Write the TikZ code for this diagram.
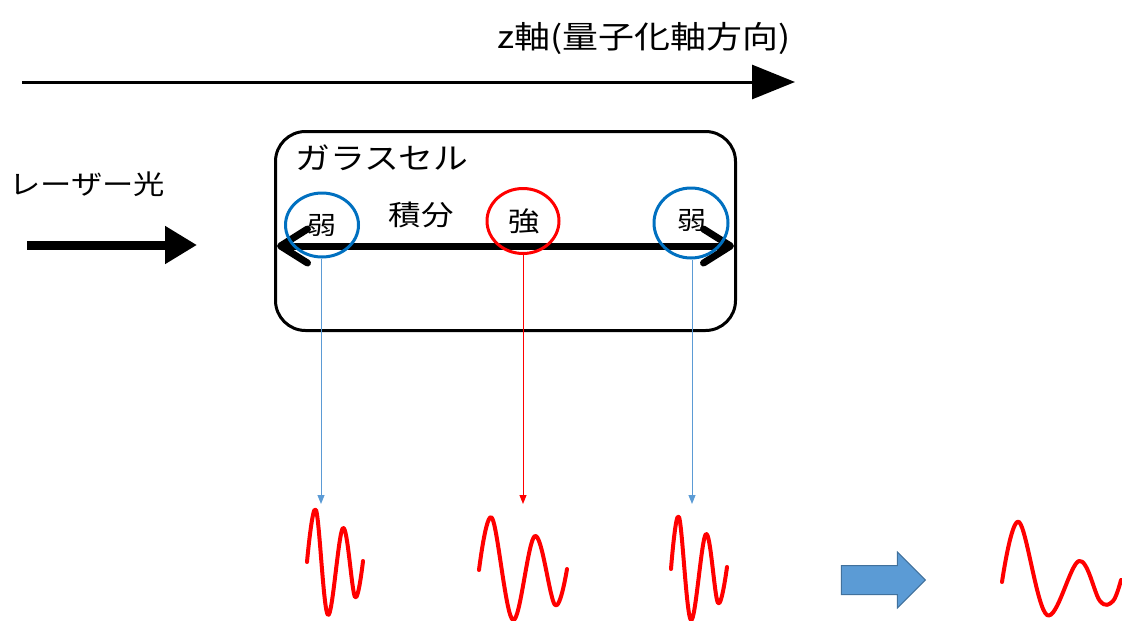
\documentclass[tikz,border=0pt]{standalone}
\usepackage{fontspec}
\setmainfont{Noto Sans CJK JP}[FakeStretch=1.16]
\usetikzlibrary{arrows.meta,shapes.geometric,shapes.arrows}
\definecolor{cblue}{HTML}{0070C0}
\definecolor{lblue}{HTML}{5B9BD5}
\definecolor{dblue}{HTML}{41719C}
\definecolor{cred}{HTML}{FF0000}
\tikzset{
  txt/.style={inner sep=0pt, font=\fontsize{#1}{#1}\selectfont},
  ring/.style={draw=#1, line width=3pt, ellipse, inner sep=0pt},
  drop/.style={draw=#1, line width=1pt, -{Triangle[length=9pt,width=7pt]}},
  wave/.style={draw=cred, line width=4pt, line cap=round, line join=round},
}
\begin{document}
\begin{tikzpicture}[x=1pt,y=-1pt]
\useasboundingbox (0,0) rectangle (1122,621);
% z axis
\coordinate (za) at (22,82);
\coordinate (zb) at (795,82);
\draw[line width=3pt, -{Triangle[length=43pt,width=34pt]}] (za) -- (zb);
\node[txt=31, anchor=east] (zlabel) at (791,38) {z軸(量子化軸方向)};
% laser
\node[txt=27, anchor=west] (laser) at (9,184) {レーザー光};
\coordinate (la) at (27,245);
\coordinate (lb) at (197,245);
\draw[line width=9pt, -{Triangle[length=32pt,width=36pt]}] (la) -- (lb);
% glass cell
\node[draw, line width=3pt, rounded corners=30pt, minimum width=460pt, minimum height=199pt, inner sep=0pt] (cell) at (505.5,231) {};
\node[txt=30, anchor=west] (cellname) at (295,158) {ガラスセル};
% integration arrow
\coordinate (ia) at (277,246);
\coordinate (ib) at (734,246);
\draw[line width=7pt, {Straight Barb[length=27pt,width=34pt,line cap=round,round]}-{Straight Barb[length=27pt,width=34pt,line cap=round,round]}] (ia) -- (ib);
\node[txt=28] (sekibun) at (421,215) {積分};
% circles
\node[ring=cblue, minimum width=73pt, minimum height=64pt] (c1) at (322,225) {};
\node[ring=cred, minimum width=72pt, minimum height=65pt] (c2) at (523,221) {};
\node[ring=cblue, minimum width=74pt, minimum height=70pt] (c3) at (691,223) {};
\node[txt=25] (t1) at (322,225) {弱};
\node[txt=27] (t2) at (524,221) {強};
\node[txt=25] (t3) at (692,220) {弱};
% drops
\coordinate (w1) at (321,504);
\coordinate (w2) at (523,504);
\coordinate (w3) at (692,504);
\draw[drop=lblue] (c1.south -| w1) -- (w1);
\draw[drop=cred] (c2.south) -- (w2);
\draw[drop=lblue] (c3.south -| w3) -- (w3);
% waves
\draw[wave] plot[smooth, tension=0.6] coordinates {(307,562) (316,510) (328,615) (343,528) (355,597) (363,561)};
\draw[wave] plot[smooth, tension=0.6] coordinates {(479,570) (492,518) (513,620) (535,536) (555,605) (567,569)};
\draw[wave] plot[smooth, tension=0.6] coordinates {(671,569) (679,517) (691,620) (706,534) (718,603) (727,567)};
\draw[wave] plot[smooth, tension=0.6] coordinates {(1002,582) (1019,522) (1047,615) (1079,561) (1100,601) (1113,601) (1121,580)};
% block arrow
\node[single arrow, draw=dblue, fill=lblue, line width=1pt, minimum height=84pt, minimum width=55pt, single arrow head extend=13.5pt, single arrow tip angle=90, inner xsep=0pt, inner ysep=14pt, anchor=tip] (block) at (926,580) {};
\end{tikzpicture}
\end{document}
